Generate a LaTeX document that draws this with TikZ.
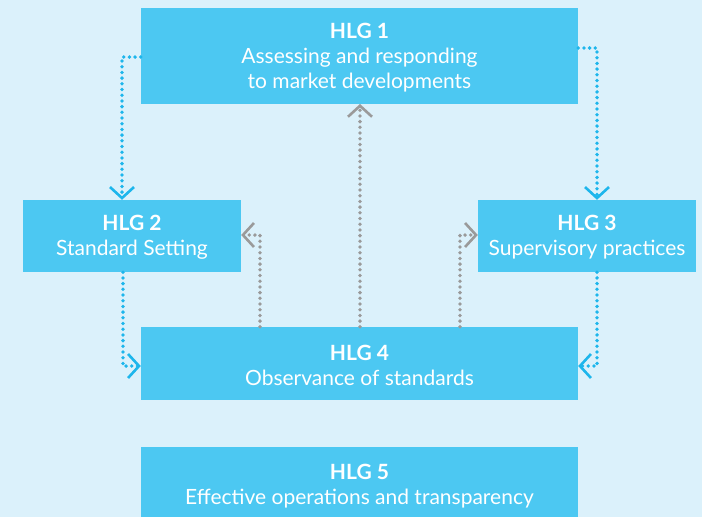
\documentclass[tikz,border=0pt]{standalone}
\usepackage{fontspec}
\setmainfont{Lato}
\usetikzlibrary{arrows.meta}
\definecolor{bg}{HTML}{DBF1FB}
\definecolor{boxc}{HTML}{4CC8F2}
\definecolor{arrb}{HTML}{1DB6EC}
\definecolor{arrg}{HTML}{9A9A9A}
\tikzset{
  hlg/.style={fill=boxc, draw=none, inner sep=0pt},
  txt/.style={text=white, align=center, inner sep=0pt, font=\fontsize{21}{25}\selectfont},
  dotline/.style={line width=3.8pt, line cap=round, dash pattern=on 0pt off 5.7pt},
  tip/.style={-{Straight Barb[length=11pt,width=24pt,line width=2.6pt,line cap=butt]}},
  blu/.style={dotline, draw=arrb, tip},
  gry/.style={dotline, draw=arrg, tip},
}
\begin{document}
\begin{tikzpicture}[x=1pt,y=-1pt]
\fill[bg] (0,0) rectangle (702,517);
\useasboundingbox (0,0) rectangle (702,517);
\node[hlg, minimum width=437pt, minimum height=96pt] (h1) at (359.5,56) {};
\node[hlg, minimum width=218pt, minimum height=72pt] (h2) at (132,236) {};
\node[hlg, minimum width=218pt, minimum height=72pt] (h3) at (587,236) {};
\node[hlg, minimum width=437pt, minimum height=73pt] (h4) at (359.5,363.5) {};
\node[hlg, minimum width=437pt, minimum height=72pt] (h5) at (359.5,483) {};
\node[txt] (t1) at ([yshift=-2pt]h1.center) {\textbf{HLG 1}\\Assessing and responding\\to market developments};
\node[txt] (t2) at ([yshift=-1.5pt]h2.center) {\textbf{HLG 2}\\Standard Setting};
\node[txt] (t3) at ([yshift=-1.5pt]h3.center) {\textbf{HLG 3}\\Supervisory practices};
\node[txt] (t4) at ([yshift=-2pt]h4.center) {\textbf{HLG 4}\\Observance of standards};
\node[txt] (t5) at ([yshift=-3.5pt]h5.center) {\textbf{HLG 5}\\Effective operations and transparency};
\coordinate (c1) at (122,57);
\coordinate (c2) at (597,48);
\coordinate (c3) at (123,366);
\coordinate (c4) at (597,366);
\coordinate (g1) at (260,235);
\coordinate (g3) at (460,235);
\draw[blu] (h1.west |- c1) -- (c1) -- (c1 |- h2.north);
\draw[blu] (h1.east |- c2) -- (c2) -- (c2 |- h3.north);
\draw[blu] (c3 |- h2.south) -- (c3) -- (h4.west |- c3);
\draw[blu] (c4 |- h3.south) -- (c4) -- (h4.east |- c4);
\draw[gry] (g1 |- h4.north) -- (g1) -- (h2.east |- g1);
\draw[gry] (h4.north) ++(0.5,0) -- (360,104);
\draw[gry] (g3 |- h4.north) -- (g3) -- (h3.west |- g3);
\end{tikzpicture}
\end{document}
